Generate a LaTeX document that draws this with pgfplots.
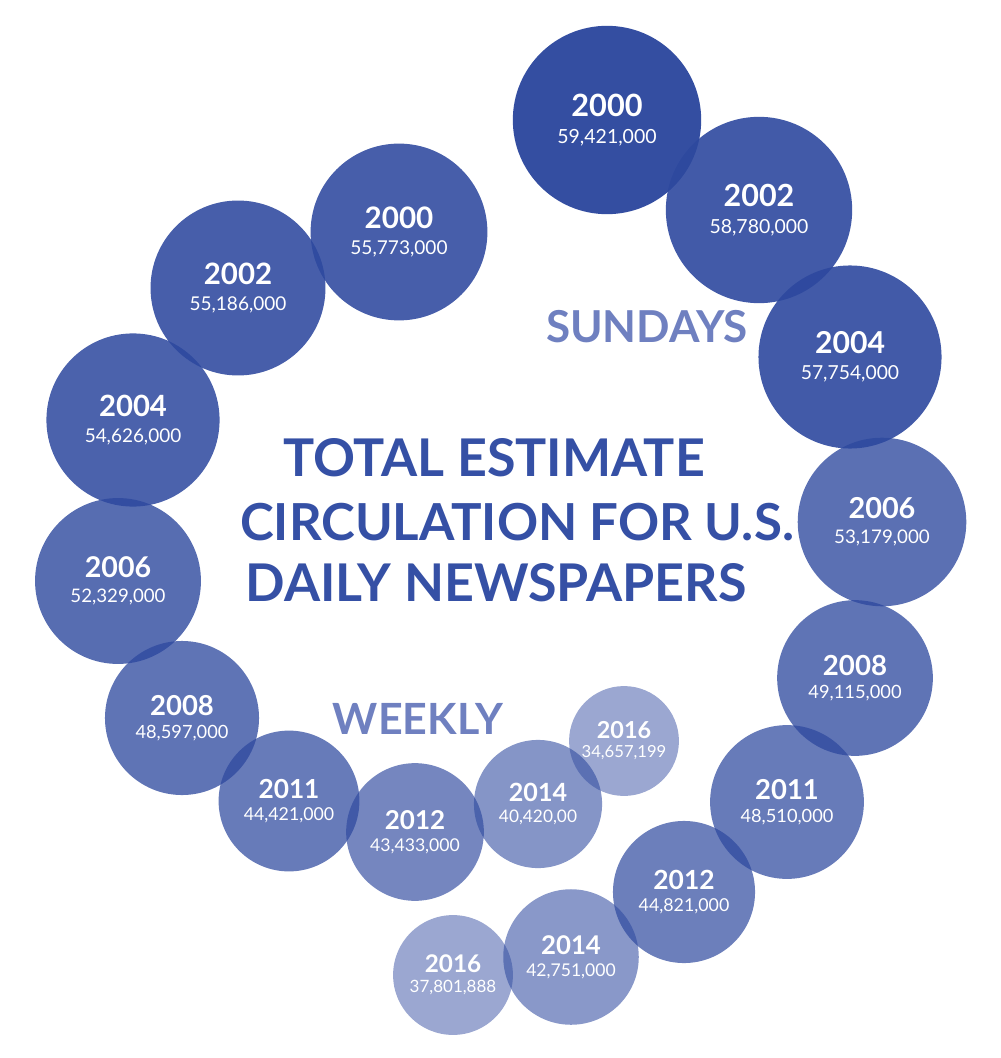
\documentclass[border=0pt]{standalone}
\usepackage{pgfplots}
\pgfplotsset{compat=1.18}
\usepackage{fontspec}
\setmainfont{Lato}
\definecolor{bub}{HTML}{2D489E}
\definecolor{ttl}{HTML}{3550A5}
\definecolor{sub}{HTML}{6F80C0}

% label inside a bubble: value in millions, year, circulation text
\NewDocumentCommand\blabel{mmm}{%
  \pgfmathsetmacro\yfs{6.6+0.147*#1}%
  \pgfmathsetmacro\vfs{6.3+0.058*#1}%
  \pgfmathsetmacro\bsk{4+0.16*#1}%
  \vbox{\baselineskip=\bsk pt\lineskiplimit=-100pt
    \halign{\hfil##\hfil\cr
      \fontsize{\yfs}{\yfs}\selectfont\bfseries #2\cr
      \fontsize{\vfs}{\vfs}\selectfont #3\cr}}}

% x, y (pixels), circulation in millions, opacity, year, text
\newcommand\bubble[6]{%
  \addplot[only marks, mark=*, mark size={0.7925*#3},
    mark options={fill=bub, fill opacity=#4, draw opacity=0, line width=0pt},
    nodes near coords={\blabel{#3}{#5}{#6}},
    nodes near coords align=center,
    every node near coord/.style={anchor=center, inner sep=0pt, text=white,
      opacity=1, fill opacity=1, text opacity=1}]
    coordinates {(#1,#2)};}

\begin{document}
\begin{tikzpicture}
\begin{axis}[scale only axis, width=500pt, height=529pt,
  xmin=0, xmax=1000, ymin=0, ymax=1058, y dir=reverse,
  hide axis, clip=false]
% Sundays
\bubble{607}{120}{59.421}{0.97}{2000}{59,421,000}
\bubble{759}{210}{58.780}{0.90}{2002}{58,780,000}
\bubble{850}{357}{57.754}{0.90}{2004}{57,754,000}
\bubble{882}{522}{53.179}{0.78}{2006}{53,179,000}
\bubble{855}{678}{49.115}{0.76}{2008}{49,115,000}
\bubble{787}{802}{48.510}{0.72}{2011}{48,510,000}
\bubble{684}{892}{44.821}{0.70}{2012}{44,821,000}
\bubble{571}{957}{42.751}{0.56}{2014}{42,751,000}
\bubble{453}{975}{37.801888}{0.48}{2016}{37,801,888}
% weekly
\bubble{399}{232}{55.773}{0.88}{2000}{55,773,000}
\bubble{238}{288}{55.186}{0.88}{2002}{55,186,000}
\bubble{133}{420}{54.626}{0.86}{2004}{54,626,000}
\bubble{118}{581}{52.329}{0.80}{2006}{52,329,000}
\bubble{182}{718}{48.597}{0.76}{2008}{48,597,000}
\bubble{289}{801}{44.421}{0.72}{2011}{44,421,000}
\bubble{415}{832}{43.433}{0.66}{2012}{43,433,000}
\bubble{538}{804}{40.420}{0.58}{2014}{40,420,00}
\bubble{624}{741}{34.657199}{0.48}{2016}{34,657,199}

\node[text=ttl, font=\fontsize{26}{26}\selectfont\bfseries] at (axis cs:494,458) {TOTAL ESTIMATE};
\node[text=ttl, font=\fontsize{25.5}{25.5}\selectfont\bfseries] at (axis cs:517,522) {CIRCULATION FOR U.S.};
\node[text=ttl, font=\fontsize{26}{26}\selectfont\bfseries] at (axis cs:496,583) {DAILY NEWSPAPERS};
\node[text=sub, font=\fontsize{22}{22}\selectfont\bfseries] at (axis cs:647,327) {SUNDAYS};
\node[text=sub, font=\fontsize{21.5}{21.5}\selectfont\bfseries] at (axis cs:418,719) {WEEKLY};
\end{axis}
\pgfresetboundingbox
\useasboundingbox (current axis.south west) rectangle (current axis.north east);
\end{tikzpicture}
\end{document}
